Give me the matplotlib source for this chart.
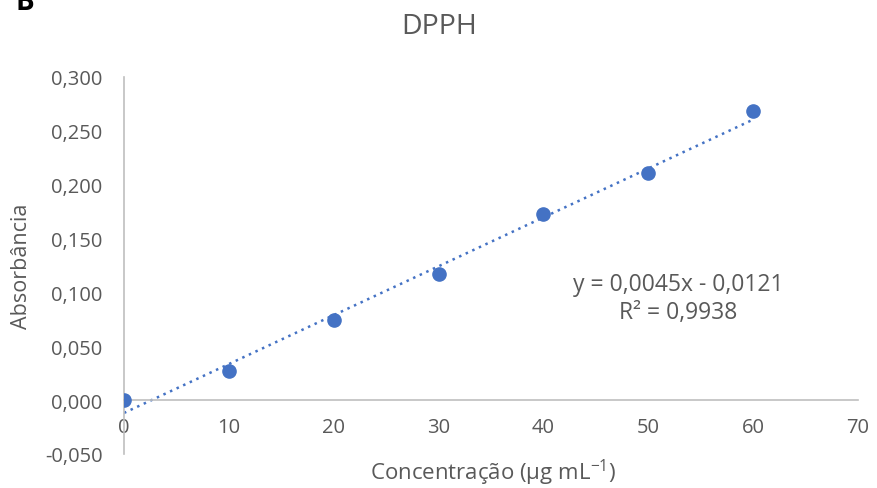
import numpy as np
import matplotlib
matplotlib.use('Agg')
import matplotlib.pyplot as plt

concentracao = [0, 10, 20, 30, 40, 50, 60]
absorbancia = [0.000, 0.027, 0.074, 0.117, 0.173, 0.211, 0.268]

y_ticks = [-0.05, 0.0, 0.05, 0.10, 0.15, 0.20, 0.25, 0.30]
y_tick_labels = ['-0,050', '0,000', '0,050', '0,100', '0,150', '0,200', '0,250', '0,300']
x_ticks = [0, 10, 20, 30, 40, 50, 60, 70]

blue = '#4472C4'
grey_text = '#595959'
axis_grey = '#BFBFBF'

plt.rcParams['font.family'] = ['Open Sans', 'DejaVu Sans']
plt.rcParams['mathtext.fontset'] = 'custom'
plt.rcParams['mathtext.rm'] = 'Open Sans'

fig = plt.figure(figsize=(8.78, 4.89), dpi=100)
ax = fig.add_axes([124 / 878, 1 - 455 / 489, (858 - 124) / 878, (455 - 78) / 489])

ax.plot(concentracao, absorbancia, 'o', color=blue, markersize=9.5, zorder=3)

# linear trendline like the Excel one
slope, intercept = np.polyfit(concentracao, absorbancia, 1)
xs = np.array([concentracao[0], concentracao[-1]])
ax.plot(xs, slope * xs + intercept, linestyle=(0, (1, 1.9)), color=blue, linewidth=1.8, zorder=2)

ax.set_xlim(0, 70)
ax.set_ylim(-0.05, 0.30)
ax.set_xticks(x_ticks)
ax.set_yticks(y_ticks)
ax.set_yticklabels(y_tick_labels)

for side in ['top', 'right']:
    ax.spines[side].set_visible(False)
ax.spines['bottom'].set_position(('data', 0))
ax.spines['bottom'].set_color(axis_grey)
ax.spines['left'].set_color(axis_grey)
ax.spines['bottom'].set_linewidth(1.2)
ax.spines['left'].set_linewidth(1.2)

ax.tick_params(axis='both', length=0, labelsize=14.5, labelcolor=grey_text)
ax.tick_params(axis='x', pad=12)
ax.tick_params(axis='y', pad=15.5)

fig.text(678 / 878, 1 - 285 / 489, 'y = 0,0045x - 0,0121', ha='center', va='center',
         fontsize=16.5, color=grey_text)
fig.text(678 / 878, 1 - 313 / 489, 'R² = 0,9938', ha='center', va='center',
         fontsize=16.5, color=grey_text)

fig.text(0.5, 1 - 27 / 489, 'DPPH', ha='center', va='center', fontsize=20.5, color=grey_text)
fig.text(22 / 878, 1 - 266 / 489, 'Absorbância', rotation=90, ha='center', va='center',
         fontsize=15.5, color=grey_text)
fig.text(493 / 878, 1 - 473 / 489, r'Concentração (µg mL$^{-1}$)', ha='center', va='center',
         fontsize=16, color=grey_text)
fig.text(16 / 878, 1 - 10 / 489, 'B', ha='left', va='baseline', fontsize=20,
         fontweight='bold', color='black')

fig.savefig('out.png', dpi=100)
